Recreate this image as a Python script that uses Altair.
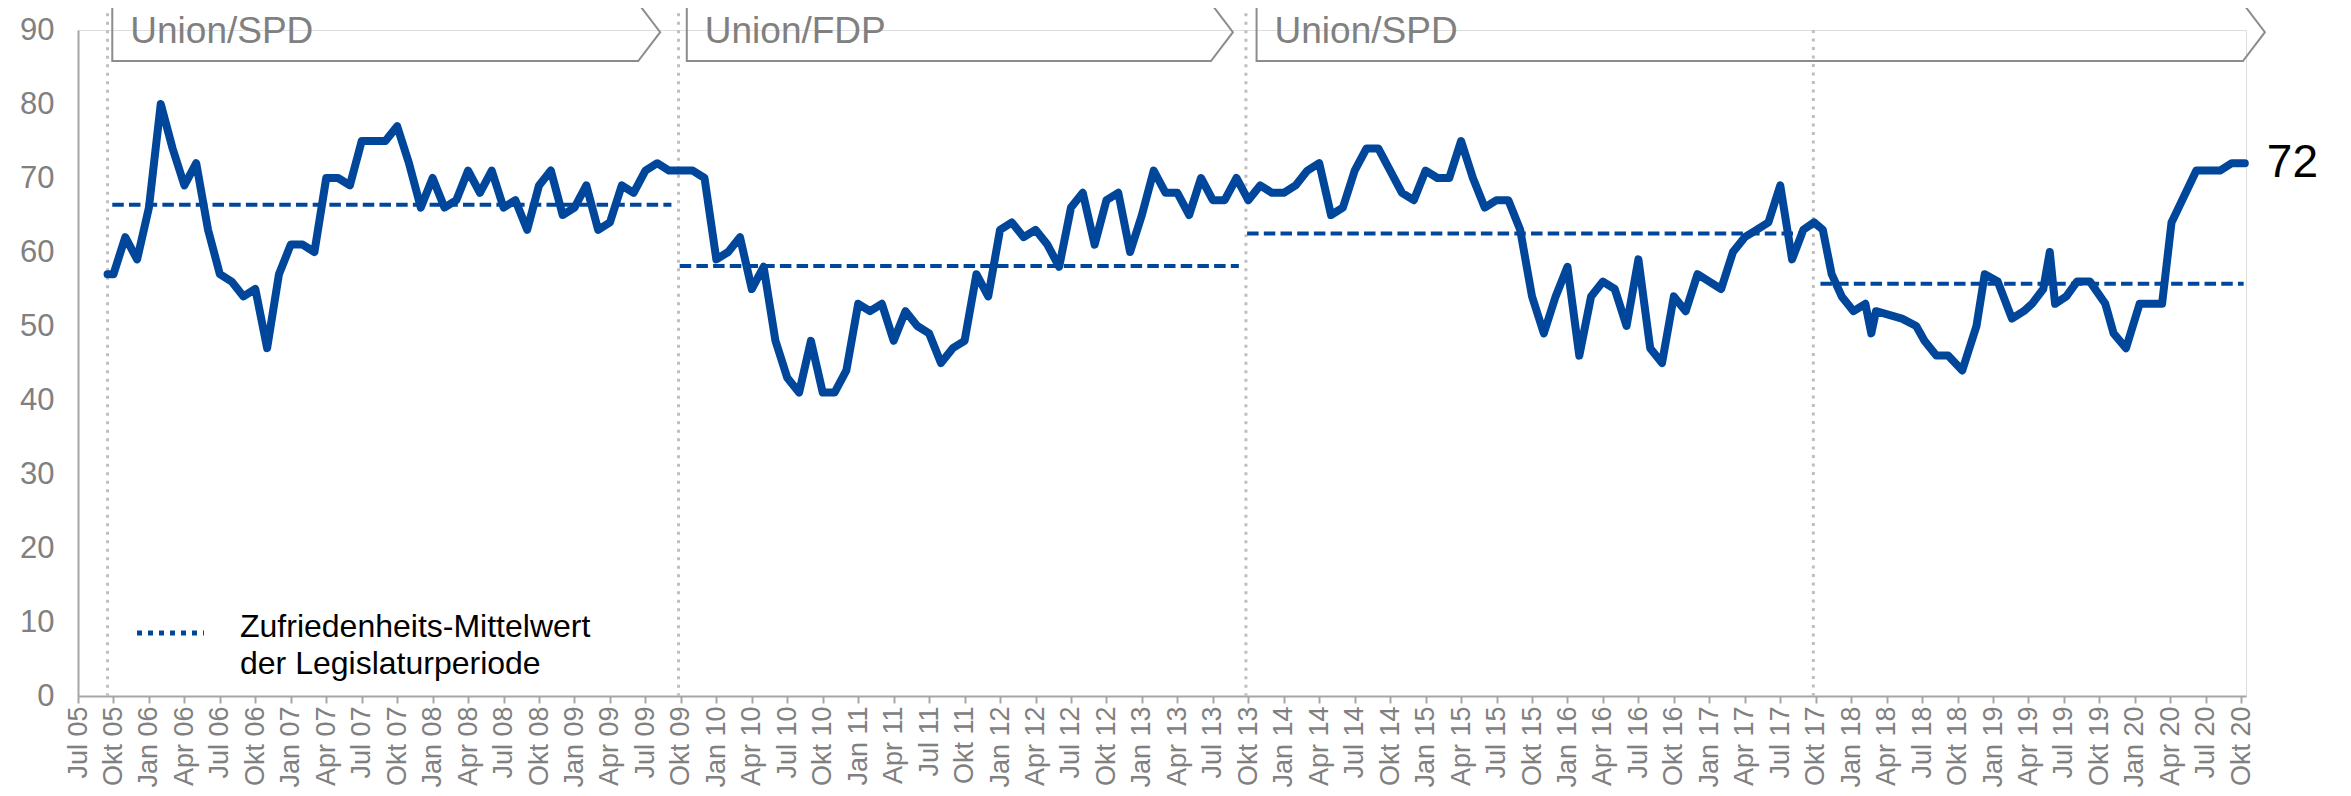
import altair as alt
import pandas as pd

# Monate seit Juli 2005 (0 = Jul 05) und Zufriedenheit mit der Bundesregierung (%)
monat = [2.5, 3, 4, 5, 6, 7, 8, 9, 10, 11, 12, 13, 14, 15, 16, 17, 18, 19, 20,
         21, 22, 23, 24, 25, 26, 27, 28, 29, 30, 31, 32, 33, 34, 35, 36, 37, 38,
         39, 40, 41, 42, 43, 44, 45, 46, 47, 48, 49, 50, 51, 52, 53, 54, 55, 56,
         57, 58, 59, 60, 61, 62, 63, 64, 65, 66, 67, 68, 69, 70, 71, 72, 73, 74,
         75, 76, 77, 78, 79, 80, 81, 82, 83, 84, 85, 86, 87, 88, 89, 90, 91, 92,
         93, 94, 95, 96, 97, 98, 99, 100, 101, 102, 103, 104, 105, 106, 107, 108,
         109, 110, 111, 112, 113, 114, 115, 116, 117, 118, 119, 120, 121, 122,
         123, 124, 125, 126, 127, 128, 129, 130, 131, 132, 133, 134, 135, 136,
         137, 138, 139, 140, 141, 142, 143, 144, 145, 145.95, 146.86, 147.6,
         148.35, 149.2, 150.2, 151.2, 151.7, 152.1, 154.3, 155.5, 156.2, 157.2,
         158.2, 159.4, 160.6, 161.3, 162.4, 163.6, 164.6, 165.3, 166.25, 166.8,
         167.25, 168.2, 169.1, 170.2, 171.5, 172.2, 173.25, 174.4, 176.3, 177.1,
         179.2, 181.2, 182.2, 183.3]
zufriedenheit = [57, 57, 62, 59, 66, 80, 74, 69, 72, 63, 57, 56, 54, 55, 47, 57, 61, 61, 60,
                 70, 70, 69, 75, 75, 75, 77, 72, 66, 70, 66, 67, 71, 68, 71, 66, 67, 63,
                 69, 71, 65, 66, 69, 63, 64, 69, 68, 71, 72, 71, 71, 71, 70, 59, 60, 62,
                 55, 58, 48, 43, 41, 48, 41, 41, 44, 53, 52, 53, 48, 52, 50, 49, 45, 47,
                 48, 57, 54, 63, 64, 62, 63, 61, 58, 66, 68, 61, 67, 68, 60, 65, 71, 68,
                 68, 65, 70, 67, 67, 70, 67, 69, 68, 68, 69, 71, 72, 65, 66, 71,
                 74, 74, 71, 68, 67, 71, 70, 70, 75, 70, 66, 67, 67, 63,
                 54, 49, 54, 58, 46, 54, 56, 55, 50, 59, 47, 45, 54, 52,
                 57, 56, 55, 60, 62, 63, 64, 69, 59, 63, 64, 63,
                 57, 54, 52, 53, 49, 52, 51, 50, 48, 46,
                 46, 44, 50, 57, 56, 51, 52, 53, 55, 60,
                 53, 54, 56, 56, 53, 49, 47, 53, 53, 64,
                 71, 71, 72, 72]

# Achsenbeschriftung (Quartale)
monatsnamen = ["Jul", "Okt", "Jan", "Apr"]
quartal_labels = []
for i in range(62):
    jahr = 5 + (i + 2) // 4
    quartal_labels.append(f"{monatsnamen[i % 4]} {jahr:02d}")
quartal_pos = [3 * i for i in range(62)]

# Bundestagswahlen (vertikale Linien)
wahl_monat = [2.5, 50.8, 98.8, 146.8]
wahl_oben = [93.4, 93.4, 93.4, 90]

# Zufriedenheits-Mittelwert der Legislaturperiode
mittel_start = [2.9, 50.9, 98.9, 147.4]
mittel_ende = [50.2, 98.2, 145.9, 183.2]
mittelwert = [66.4, 58.1, 62.5, 55.7]

# Koalitionen
koalition = ["Union/SPD", "Union/FDP", "Union/SPD"]
koal_start = [2.9, 51.5, 99.7]
koal_ende = [49.25, 97.7, 185.0]

legende = ["Zufriedenheits-Mittelwert", "der Legislaturperiode"]

BLUE = "#00479b"
GREY = "#808080"
FONT = "Liberation Sans"
X_MAX = 183.4
BOX_TOP, BOX_BOT = 93.6, 85.8
ARROW = 1.86

df = pd.DataFrame({"monat": monat, "wert": zufriedenheit})
df_wahl = pd.DataFrame({"monat": wahl_monat, "oben": wahl_oben})
df_mittel = pd.DataFrame({"start": mittel_start, "ende": mittel_ende, "wert": mittelwert})

mid = (BOX_TOP + BOX_BOT) / 2
rows = []
for k, (s, e) in enumerate(zip(koal_start, koal_ende)):
    pts = [(s, BOX_TOP), (e - ARROW, BOX_TOP), (e, mid), (e - ARROW, BOX_BOT),
           (s, BOX_BOT), (s, BOX_TOP)]
    for j, (px, py) in enumerate(pts):
        rows.append({"id": k, "seq": j, "x": px, "y": py})
df_box = pd.DataFrame(rows)
df_box_lbl = pd.DataFrame({"name": koalition, "x": koal_start, "y": [mid] * 3})
df_last = pd.DataFrame({"monat": [monat[-1]], "wert": [zufriedenheit[-1]]})

label_expr = "[" + ",".join(f"'{l}'" for l in quartal_labels) + "][round(datum.value/3)]"

xscale = alt.Scale(domain=[0, X_MAX], nice=False, zero=False)
yscale = alt.Scale(domain=[0, 90], nice=False)

XAX = alt.Axis(values=quartal_pos, labelExpr=label_expr, labelAngle=270,
               labelFontSize=27, labelFont=FONT, labelColor=GREY,
               labelOverlap=False, labelBound=False, labelFlush=False,
               labelPadding=3, tickSize=7, tickWidth=2, tickColor="#a6a6a6",
               domainColor="#a6a6a6", domainWidth=2, grid=False, title=None)
YAX = alt.Axis(values=list(range(0, 91, 10)), labelFontSize=31, labelFont=FONT,
               labelColor=GREY, labelPadding=24, ticks=False, labelOverlap=False,
               domainColor="#a6a6a6", domainWidth=2, grid=False, title=None)


def X(field):
    return alt.X(field, scale=xscale, axis=XAX)


def Y(field):
    return alt.Y(field, scale=yscale, axis=YAX)


boxes = alt.Chart(df_box).mark_line(color="#8c8c8c", strokeWidth=2, clip=False,
                                    strokeJoin="miter").encode(
    x=X("x:Q"), y=Y("y:Q"), detail="id:N", order="seq:Q")
box_text = alt.Chart(df_box_lbl).mark_text(align="left", baseline="middle", dx=18,
                                           fontSize=37, font=FONT, color=GREY).encode(
    x=X("x:Q"), y=Y("y:Q"), text="name:N")

wahl = alt.Chart(df_wahl).mark_rule(color="#bfbfbf", strokeWidth=3, clip=False,
                                    strokeDash=[3, 5.5]).encode(
    x=X("monat:Q"), y=alt.Y("oben:Q", scale=yscale, axis=YAX), y2=alt.datum(0))

mittel = alt.Chart(df_mittel).mark_rule(color=BLUE, strokeWidth=4,
                                        strokeDash=[11.5, 5.2]).encode(
    x=X("start:Q"), x2="ende:Q", y=Y("wert:Q"))

line = alt.Chart(df).mark_line(color=BLUE, strokeWidth=8, strokeJoin="round",
                               strokeCap="round").encode(
    x=X("monat:Q"), y=Y("wert:Q"))

last = alt.Chart(df_last).mark_text(align="left", baseline="middle", dx=22,
                                    fontSize=46, font=FONT, color="black").encode(
    x=X("monat:Q"), y=Y("wert:Q"), text="wert:Q")

leg_df = pd.DataFrame({"t": [legende]})
leg_sym = alt.Chart(leg_df).mark_rule(color=BLUE, strokeWidth=5,
                                      strokeDash=[5, 6]).encode(
    x=alt.value(59), x2=alt.value(126), y=alt.value(603))
leg_txt = alt.Chart(leg_df).mark_text(align="left", baseline="alphabetic",
                                      fontSize=32, font=FONT, color="black",
                                      lineHeight=37).encode(
    x=alt.value(162), y=alt.value(607), text="t")

chart = alt.layer(wahl, boxes, box_text, mittel, line, last, leg_sym, leg_txt).properties(
    width=2168, height=666,
    autosize=alt.AutoSizeParams(type="none"),
    padding={"left": 70, "top": 22, "right": 90, "bottom": 92},
).configure_view(stroke=None).configure(background="white")

chart.save("out.html", embed_options={"renderer": "svg", "actions": False})
